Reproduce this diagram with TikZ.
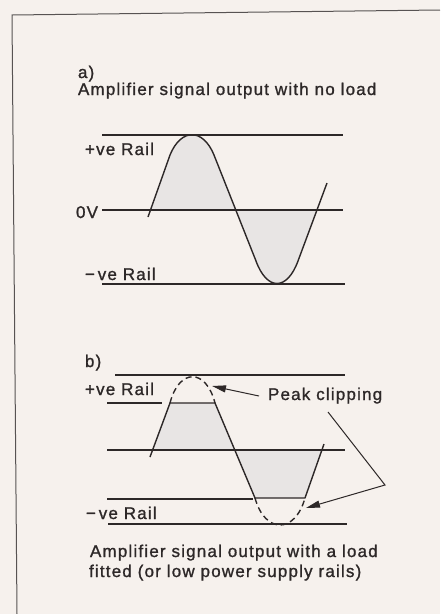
\documentclass[tikz,border=0pt]{standalone}
\usepackage{fontspec}
\setmainfont[LetterSpace=7,FakeBold=1.2]{Liberation Sans}
\usetikzlibrary{arrows.meta}
\definecolor{bg}{RGB}{246,241,237}
\definecolor{ink}{RGB}{45,40,40}
\definecolor{shade}{RGB}{232,229,228}
\begin{document}
\begin{tikzpicture}[x=1pt,y=-1pt,
  lbl/.style={anchor=base west,inner sep=0pt,outer sep=0pt,text=ink,font=\fontsize{17}{19}\selectfont},
  rail/.style={draw=ink,line width=1.1pt},
  wave/.style={draw=ink,line width=1.4pt,line join=round},
  lobe/.style={fill=shade},
  clipdash/.style={draw=ink,line width=1.4pt,dash pattern=on 6pt off 4pt},
  pointer/.style={draw=ink,line width=1pt,-{Triangle[length=14pt,width=7pt]}}]
\useasboundingbox (0,0) rectangle (440,614);
\fill[bg] (0,0) rectangle (440,614);
% frame
\draw[ink!80,line width=1pt] (17,614) -- (12,15) -- (440,10);

% ---------- part a ----------
\node[lbl] (ta) at (78,78) {a)};
\node[lbl] (tacap) at (78,95) {Amplifier signal output with no load};
\fill[lobe] (150.5,210) -- (170,155) .. controls (181,128) and (203,128) .. (214,155) -- (235.8,210) -- cycle;
\fill[lobe] (235.8,210) -- (256,261) .. controls (267,291) and (287,291) .. (298,261) -- (317,210) -- cycle;
\draw[rail] (102,135) -- (343,135);
\draw[rail] (102,210) -- (343,210);
\draw[rail] (102,284) -- (345,284);
\node[lbl] (apos) at (85,155) {+ve Rail};
\node[lbl,anchor=base east] (azero) at (98,218) {0V};
\node[lbl] (aneg) at (85,280) {−\,ve Rail};
\draw[wave] (148,217) -- (170,155) .. controls (181,128) and (203,128) .. (214,155)
  -- (256,261) .. controls (267,291) and (287,291) .. (298,261) -- (327,183);

% ---------- part b ----------
\node[lbl] (tb) at (85,367) {b)};
\fill[lobe] (152.6,450) -- (170,403) -- (215,403) -- (234.8,450) -- cycle;
\fill[lobe] (234.8,450) -- (255,498) -- (305,498) -- (321.9,450) -- cycle;
\draw[rail] (115,375) -- (345,375);
\draw[rail] (107,403) -- (162,403);
\draw[rail] (107,450) -- (345,450);
\draw[rail] (107,499) -- (253,499);
\draw[rail] (108,524) -- (347,524);
\node[lbl] (bpos) at (85,395) {+ve Rail};
\node[lbl] (bneg) at (86,519) {−\,ve Rail};
\draw[wave] (150,457) -- (170,403) -- (215,403) -- (255,498) -- (305,498) -- (324,444);
\draw[clipdash] (170,403) .. controls (179,368) and (206,368) .. (215,403);
\draw[clipdash] (255,498) .. controls (265,534) and (295,534) .. (305,498);
\node[lbl] (peak) at (268,400) {Peak clipping};
\coordinate (tiptop) at (212,386);
\coordinate (bend) at (385,485);
\coordinate (tipbot) at (306,508);
\coordinate (from2) at (328,412);
\draw[pointer] (peak.west |- 0,396) ++(-9,0) -- (tiptop);
\draw[pointer] (from2) -- (bend) -- (tipbot);
\node[lbl] (bcap1) at (90,557) {Amplifier signal output with a load};
\node[lbl] (bcap2) at (89,577) {fitted (or low power supply rails)};
\end{tikzpicture}
\end{document}
